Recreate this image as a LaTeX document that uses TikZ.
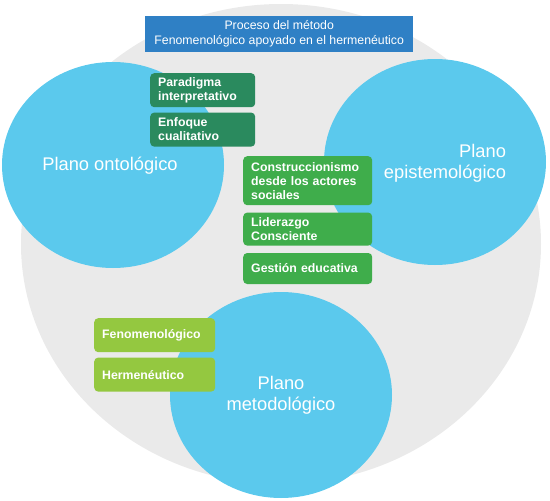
\documentclass[tikz,border=0pt]{standalone}
\usepackage{fontspec}
\setmainfont{Liberation Sans}
\usepackage{xcolor}
\usetikzlibrary{positioning}
\definecolor{grisfondo}{HTML}{EAEAEA}
\definecolor{celeste}{HTML}{5BC9ED}
\definecolor{azultit}{HTML}{2F80C5}
\definecolor{verdeosc}{HTML}{2A8A5E}
\definecolor{verdemed}{HTML}{3FAD4B}
\definecolor{verdecla}{HTML}{94C840}

\begin{document}
\begin{tikzpicture}[x=1pt, y=-1pt,
	planotxt/.style={text=white, font=\fontsize{18.3}{21}\selectfont},
	caja/.style={rounded corners=4pt, text=white, align=left, anchor=north west,
		inner xsep=8pt, inner ysep=2pt, font=\bfseries\fontsize{12.3}{14}\selectfont}]
		\useasboundingbox (0,0) rectangle (550,501);
		\coordinate (G) at (281,244);
		\coordinate (ON) at (113,165);
		\coordinate (EP) at (435,162);
		\coordinate (ME) at (281,395);
		% fondo y planos
		\fill[grisfondo] (G) ellipse [x radius=260, y radius=240];
		\fill[celeste] (ON) ellipse [x radius=111, y radius=103];
		\fill[celeste] (EP) ellipse [x radius=111, y radius=103];
		\fill[celeste] (ME) ellipse [x radius=111, y radius=103];
		\node[planotxt] (onto) at (110,166) {Plano ontológico};
		\node[planotxt, align=right] (epis) at (445,163) {Plano\\epistemológico};
		\node[planotxt, align=center] (meto) at (281,395) {Plano\\metodológico};
		% titulo
		\node[fill=azultit, text=white, align=center, anchor=north west, minimum width=268pt,
			minimum height=36pt, inner sep=0pt, font=\fontsize{12.3}{15}\selectfont]
			(titulo) at (145,16) {Proceso del método\\Fenomenológico apoyado en el hermenéutico};
		% cajas
		\node[caja, fill=verdeosc, text width=89pt, minimum height=34pt] (parad) at (150,73) {Paradigma\\interpretativo};
		\node[caja, fill=verdeosc, text width=89pt, minimum height=34pt, below=5pt of parad] (enfoq) {Enfoque\\cualitativo};
		\node[caja, fill=verdemed, text width=113pt, minimum height=49pt] (constr) at (243,156) {Construccionismo\\desde los actores\\sociales};
		\node[caja, fill=verdemed, text width=113pt, minimum height=33pt, below=7pt of constr] (lider) {Liderazgo\\Consciente};
		\node[caja, fill=verdemed, text width=113pt, minimum height=31pt, below=7pt of lider] (gestion) {Gestión educativa};
		\node[caja, fill=verdecla, text width=105pt, minimum height=34pt] (fenom) at (94,318) {Fenomenológico};
		\node[caja, fill=verdecla, text width=105pt, minimum height=34pt, below=5pt of fenom] (herme) {Hermenéutico};
	\end{tikzpicture}
\end{document}
